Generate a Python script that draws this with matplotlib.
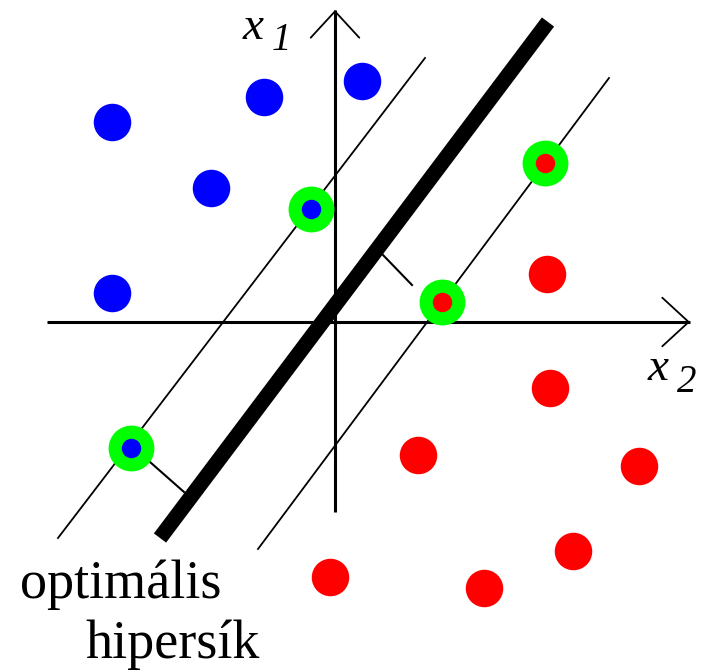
import matplotlib
matplotlib.use("Agg")
import matplotlib.pyplot as plt
import numpy as np

# Data (units: x2 horizontal, x1 vertical; 1 unit = 10 px, origin at axes crossing)
blue_x2 = [-22.3, -7.1, 2.7, -12.4, -22.3]
blue_x1 = [20.0, 22.5, 24.1, 13.4, 2.9]
blue_sv_x2 = [-2.4, -20.4]
blue_sv_x1 = [11.3, -12.6]
red_x2 = [21.2, 21.5, 8.3, 30.4, 23.8, -0.5, 14.9]
red_x1 = [4.8, -6.6, -13.3, -14.4, -22.9, -25.5, -26.6]
red_sv_x2 = [21.0, 10.7]
red_sv_x1 = [15.9, 2.0]

hyper_x2 = [-17.5, 21.3]
hyper_x1 = [-21.6, 30.0]
margin_up_x2 = [-27.7, 9.0]
margin_up_x1 = [-21.6, 26.4]
margin_lo_x2 = [-7.7, 27.4]
margin_lo_x1 = [-22.7, 24.4]
perp1_x2 = [4.8, 7.7]
perp1_x1 = [6.7, 3.7]
perp2_x2 = [-18.5, -15.1]
perp2_x1 = [-14.0, -17.0]

axis_x2_range = [-28.8, 35.5]
axis_x1_range = [-19.0, 31.2]

fig = plt.figure(figsize=(7.04, 6.70), dpi=100)
ax = fig.add_axes([0, 0, 1, 1])
ax.set_xlim(-33.5, 36.9)
ax.set_ylim(-34.8, 32.2)
ax.axis("off")

# axes
ax.plot(axis_x2_range, [0, 0], color="black", lw=2.2, solid_capstyle="butt", zorder=2)
ax.plot([0, 0], axis_x1_range, color="black", lw=2.2, solid_capstyle="butt", zorder=2)
arrow_style = "->,head_length=1.9,head_width=1.75"
ax.annotate("", xy=(axis_x2_range[1], 0), xytext=(axis_x2_range[1] - 5, 0),
            arrowprops=dict(arrowstyle=arrow_style, lw=1.3, color="black", mutation_scale=10,
                            shrinkA=0, shrinkB=0))
ax.annotate("", xy=(0, axis_x1_range[1]), xytext=(0, axis_x1_range[1] - 5),
            arrowprops=dict(arrowstyle=arrow_style, lw=1.3, color="black", mutation_scale=10,
                            shrinkA=0, shrinkB=0))

# lines
ax.plot(hyper_x2, hyper_x1, color="black", lw=11, solid_capstyle="butt", zorder=3)
ax.plot(margin_up_x2, margin_up_x1, color="black", lw=1.3, zorder=3)
ax.plot(margin_lo_x2, margin_lo_x1, color="black", lw=1.3, zorder=3)
ax.plot(perp1_x2, perp1_x1, color="black", lw=1.5, zorder=3)
ax.plot(perp2_x2, perp2_x1, color="black", lw=1.5, zorder=3)

# points
ax.plot(blue_x2, blue_x1, "o", color="#0000ff", ms=27, mec="none", zorder=4)
ax.plot(red_x2, red_x1, "o", color="#ff0000", ms=27, mec="none", zorder=4)
ax.plot(blue_sv_x2 + red_sv_x2, blue_sv_x1 + red_sv_x1, "o", color="#00ff00", ms=33,
        mec="none", zorder=4)
ax.plot(blue_sv_x2, blue_sv_x1, "o", color="#0000ff", ms=14, mec="none", zorder=5)
ax.plot(red_sv_x2, red_sv_x1, "o", color="#ff0000", ms=14, mec="none", zorder=5)

serif = ["Liberation Serif", "DejaVu Serif"]
# axis labels
ax.text(-9.2, 28.3, "x", fontsize=34, style="italic", family=serif, ha="left", va="baseline")
ax.text(-6.3, 27.2, "1", fontsize=28, style="italic", family=serif, ha="left", va="baseline")
ax.text(31.3, -5.8, "x", fontsize=34, style="italic", family=serif, ha="left", va="baseline")
ax.text(34.2, -7.0, "2", fontsize=28, style="italic", family=serif, ha="left", va="baseline")

ax.text(-31.5, -27.6, "optimális", fontsize=39, family=serif, ha="left", va="baseline")
ax.text(-25.0, -33.6, "hipersík", fontsize=39, family=serif, ha="left", va="baseline")

fig.savefig("out.png", dpi=100)
